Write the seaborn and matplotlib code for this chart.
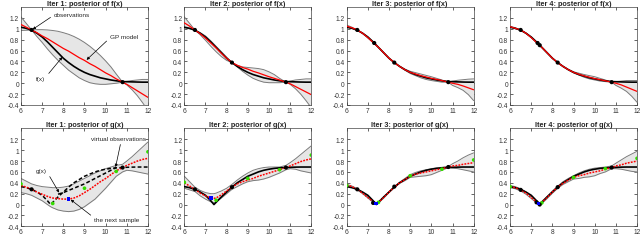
import matplotlib
matplotlib.use("Agg")
import matplotlib.pyplot as plt
from matplotlib.ticker import FixedLocator
import seaborn as sns

# x grids
X = [6, 6.25, 6.5, 6.75, 7, 7.25, 7.5, 7.75, 8, 8.25, 8.5, 8.75, 9, 9.25, 9.5,
     9.75, 10, 10.25, 10.5, 10.8, 11, 11.25, 11.5, 11.75, 12]
XG = [6, 6.25, 6.5, 6.75, 7, 7.25, 7.4, 7.5, 7.75, 8, 8.25, 8.5, 8.75, 9, 9.25,
      9.5, 9.75, 10, 10.25, 10.5, 10.8, 11, 11.25, 11.5, 11.75, 12]

x_ticks = [6, 7, 8, 9, 10, 11, 12]
y_ticks = [-0.4, -0.2, 0, 0.2, 0.4, 0.6, 0.8, 1, 1.2]
y_labels = ["-0.4", "-0.2", "0", "0.2", "0.4", "0.6", "0.8", "1", "1.2"]

# true f(x)
f_true = [1.03, 1.01, 0.975, 0.92, 0.85, 0.76, 0.66, 0.56, 0.46, 0.38, 0.31, 0.25, 0.20,
          0.16, 0.13, 0.10, 0.08, 0.06, 0.045, 0.03, 0.028, 0.025, 0.022, 0.02, 0.02]

# posterior of f, iterations 1..4
f_mean_1 = [1.08, 1.03, 0.98, 0.93, 0.87, 0.82, 0.76, 0.70, 0.64, 0.59, 0.53, 0.47, 0.42,
            0.36, 0.31, 0.25, 0.19, 0.14, 0.08, 0.02, -0.02, -0.08, -0.14, -0.20, -0.26]
f_up_1 = [1.22, 1.10, 0.98, 0.985, 0.985, 0.98, 0.97, 0.955, 0.93, 0.90, 0.86, 0.81, 0.75,
          0.68, 0.60, 0.51, 0.41, 0.30, 0.17, 0.02, 0.035, 0.05, 0.06, 0.07, 0.07]
f_lo_1 = [0.97, 0.975, 0.98, 0.86, 0.75, 0.63, 0.52, 0.42, 0.33, 0.24, 0.17, 0.10, 0.05,
          0.01, -0.01, -0.02, -0.02, -0.01, 0.0, 0.02, -0.03, -0.12, -0.23, -0.36, -0.50]

f_mean_2 = [1.11, 1.05, 0.98, 0.91, 0.83, 0.74, 0.65, 0.55, 0.46, 0.38, 0.33, 0.29, 0.26,
            0.22, 0.19, 0.155, 0.12, 0.09, 0.06, 0.02, -0.01, -0.06, -0.11, -0.16, -0.21]
f_up_2 = [1.22, 1.10, 0.98, 0.93, 0.87, 0.78, 0.68, 0.58, 0.48, 0.38, 0.33, 0.30, 0.29,
          0.28, 0.27, 0.25, 0.21, 0.16, 0.09, 0.02, 0.04, 0.06, 0.07, 0.08, 0.08]
f_lo_2 = [1.02, 1.00, 0.98, 0.89, 0.79, 0.68, 0.58, 0.49, 0.42, 0.38, 0.30, 0.22, 0.15,
          0.09, 0.05, 0.02, 0.01, 0.01, 0.01, 0.02, -0.02, -0.10, -0.20, -0.32, -0.45]

f_mean_3 = [1.05, 1.02, 0.98, 0.92, 0.84, 0.75, 0.66, 0.56, 0.46, 0.38, 0.31, 0.25, 0.20,
            0.17, 0.14, 0.115, 0.09, 0.07, 0.05, 0.02, 0.0, -0.02, -0.05, -0.085, -0.12]
f_up_3 = [1.07, 1.03, 0.98, 0.925, 0.85, 0.755, 0.665, 0.565, 0.465, 0.38, 0.315, 0.26, 0.22,
          0.195, 0.17, 0.145, 0.12, 0.09, 0.06, 0.02, 0.04, 0.055, 0.065, 0.075, 0.08]
f_lo_3 = [1.03, 1.01, 0.98, 0.915, 0.83, 0.745, 0.655, 0.555, 0.455, 0.38, 0.305, 0.24, 0.18,
          0.14, 0.10, 0.07, 0.05, 0.035, 0.02, 0.02, -0.04, -0.08, -0.13, -0.21, -0.32]

f_mean_4 = [1.04, 1.01, 0.98, 0.92, 0.84, 0.75, 0.66, 0.56, 0.46, 0.38, 0.31, 0.25, 0.20,
            0.165, 0.135, 0.11, 0.085, 0.065, 0.045, 0.02, 0.0, -0.03, -0.07, -0.11, -0.15]
f_up_4 = [1.05, 1.02, 0.98, 0.925, 0.845, 0.755, 0.665, 0.565, 0.465, 0.38, 0.315, 0.255, 0.21,
          0.185, 0.16, 0.14, 0.12, 0.09, 0.06, 0.02, 0.03, 0.04, 0.05, 0.05, 0.05]
f_lo_4 = [1.03, 1.00, 0.98, 0.915, 0.835, 0.745, 0.655, 0.555, 0.455, 0.38, 0.305, 0.245, 0.19,
          0.15, 0.11, 0.08, 0.06, 0.04, 0.03, 0.02, -0.04, -0.09, -0.15, -0.24, -0.35]

# observations of f
f_obs_x = [[6.5, 10.8], [6.5, 8.25, 10.8], [6.5, 7.3, 8.25, 10.8], [6.5, 7.3, 7.4, 8.25, 10.8]]
f_obs_y = [[0.98, 0.02], [0.98, 0.38, 0.02], [0.98, 0.74, 0.38, 0.02], [0.98, 0.74, 0.70, 0.38, 0.02]]

# true g(x)
g_true = [0.33, 0.31, 0.28, 0.23, 0.17, 0.07, 0.0, 0.04, 0.14, 0.23, 0.32, 0.40, 0.46,
          0.52, 0.56, 0.60, 0.63, 0.65, 0.665, 0.675, 0.68, 0.685, 0.688, 0.69, 0.69, 0.69]
# second dashed curve in iteration 1 (x from 7.75 to 10.5)
g_dash_x = [7.75, 8, 8.25, 8.5, 8.75, 9, 9.25, 9.5, 9.75, 10, 10.25, 10.5]
g_dash_y = [0.19, 0.22, 0.26, 0.30, 0.34, 0.38, 0.43, 0.48, 0.53, 0.58, 0.63, 0.68]

# posterior of g, iterations 1..4
g_mean_1 = [0.35, 0.32, 0.28, 0.23, 0.19, 0.15, 0.13, 0.12, 0.11, 0.10, 0.10, 0.12, 0.16,
            0.22, 0.28, 0.35, 0.42, 0.48, 0.55, 0.62, 0.68, 0.72, 0.76, 0.80, 0.83, 0.85]
g_up_1 = [0.48, 0.43, 0.38, 0.35, 0.33, 0.32, 0.315, 0.31, 0.31, 0.32, 0.34, 0.38, 0.43,
          0.48, 0.53, 0.58, 0.62, 0.66, 0.69, 0.72, 0.74, 0.80, 0.88, 0.97, 1.06, 1.15]
g_lo_1 = [0.22, 0.20, 0.17, 0.12, 0.07, 0.0, -0.04, -0.06, -0.10, -0.12, -0.13, -0.12, -0.09,
          -0.04, 0.03, 0.10, 0.20, 0.30, 0.41, 0.52, 0.60, 0.63, 0.62, 0.60, 0.58, 0.56]

g_mean_2 = [0.40, 0.34, 0.28, 0.21, 0.16, 0.12, 0.115, 0.12, 0.18, 0.25, 0.32, 0.38, 0.42,
            0.45, 0.48, 0.52, 0.55, 0.58, 0.61, 0.64, 0.68, 0.71, 0.75, 0.79, 0.82, 0.84]
g_up_2 = [0.52, 0.42, 0.32, 0.26, 0.22, 0.20, 0.20, 0.21, 0.25, 0.30, 0.37, 0.45, 0.52,
          0.58, 0.63, 0.66, 0.68, 0.69, 0.69, 0.69, 0.72, 0.77, 0.84, 0.92, 1.00, 1.08]
g_lo_2 = [0.30, 0.27, 0.24, 0.16, 0.10, 0.05, 0.03, 0.05, 0.12, 0.20, 0.28, 0.33, 0.38,
          0.42, 0.44, 0.45, 0.47, 0.50, 0.54, 0.58, 0.64, 0.66, 0.65, 0.62, 0.60, 0.58]

g_mean_3 = [0.36, 0.33, 0.28, 0.21, 0.13, 0.05, 0.025, 0.04, 0.13, 0.23, 0.32, 0.40, 0.46,
            0.52, 0.56, 0.58, 0.60, 0.62, 0.64, 0.66, 0.69, 0.71, 0.72, 0.74, 0.755, 0.77]
g_up_3 = [0.37, 0.34, 0.29, 0.22, 0.14, 0.06, 0.035, 0.05, 0.14, 0.24, 0.33, 0.41, 0.48,
          0.55, 0.59, 0.62, 0.64, 0.66, 0.675, 0.685, 0.70, 0.75, 0.80, 0.86, 0.91, 0.95]
g_lo_3 = [0.35, 0.32, 0.27, 0.20, 0.12, 0.04, 0.015, 0.03, 0.12, 0.22, 0.31, 0.39, 0.44,
          0.50, 0.51, 0.52, 0.53, 0.55, 0.59, 0.63, 0.68, 0.67, 0.66, 0.64, 0.62, 0.60]

g_mean_4 = [0.33, 0.31, 0.27, 0.21, 0.13, 0.05, 0.01, 0.04, 0.13, 0.23, 0.32, 0.39, 0.45,
            0.50, 0.53, 0.55, 0.58, 0.60, 0.62, 0.65, 0.68, 0.71, 0.73, 0.76, 0.78, 0.80]
g_up_4 = [0.35, 0.33, 0.29, 0.23, 0.15, 0.07, 0.03, 0.06, 0.15, 0.25, 0.34, 0.42, 0.48,
          0.53, 0.58, 0.62, 0.65, 0.67, 0.68, 0.69, 0.71, 0.76, 0.82, 0.88, 0.93, 0.98]
g_lo_4 = [0.31, 0.29, 0.25, 0.19, 0.11, 0.03, -0.01, 0.02, 0.11, 0.21, 0.30, 0.37, 0.42,
          0.47, 0.48, 0.50, 0.51, 0.53, 0.57, 0.60, 0.66, 0.66, 0.65, 0.63, 0.61, 0.60]

# observations of g
g_obs_x = [[6.5, 10.8], [6.5, 8.25, 10.8], [6.5, 7.25, 8.25, 10.8], [6.5, 7.25, 7.4, 8.25, 10.8]]
g_obs_y = [[0.28, 0.68], [0.28, 0.32, 0.68], [0.28, 0.03, 0.33, 0.69], [0.27, 0.04, 0.0, 0.32, 0.68]]
next_x = [8.25, 7.25, 7.4, 7.35]
next_y = [0.10, 0.12, 0.02, 0.02]
virt_x = [6, 7.5, 9, 10.5, 12]
virt_y = [[0.38, 0.02, 0.30, 0.61, 0.97], [0.41, 0.08, 0.48, 0.64, 0.91],
          [0.35, 0.04, 0.53, 0.65, 0.82], [0.33, 0.03, 0.50, 0.66, 0.85]]

f_means = [f_mean_1, f_mean_2, f_mean_3, f_mean_4]
f_ups = [f_up_1, f_up_2, f_up_3, f_up_4]
f_los = [f_lo_1, f_lo_2, f_lo_3, f_lo_4]
g_means = [g_mean_1, g_mean_2, g_mean_3, g_mean_4]
g_ups = [g_up_1, g_up_2, g_up_3, g_up_4]
g_los = [g_lo_1, g_lo_2, g_lo_3, g_lo_4]

sns.set_style("white")
plt.rcParams["font.family"] = ["Liberation Sans", "DejaVu Sans"]

fig = plt.figure(figsize=(6.4, 2.51), dpi=100)
lefts = [0.0328, 0.288, 0.5417, 0.797]
width = 0.1984
bottoms = [0.5777, 0.0944]
height = 0.390

FILL = "#e6e6e6"
EDGE = "#7a7a7a"


def style_axes(ax, title):
    ax.set_xlim(6, 12)
    ax.set_ylim(-0.4, 1.4)
    ax.xaxis.set_major_locator(FixedLocator(x_ticks))
    ax.yaxis.set_major_locator(FixedLocator(y_ticks))
    ax.set_xticklabels([str(t) for t in x_ticks])
    ax.set_yticklabels(y_labels)
    ax.tick_params(direction="in", length=2, width=0.5, labelsize=4.8,
                   labelcolor="#333333", pad=1.5, top=True, right=True,
                   bottom=True, left=True)
    for s in ax.spines.values():
        s.set_linewidth(0.5)
        s.set_color("#444444")
    ax.set_xlabel("")
    ax.set_ylabel("")
    ax.set_title(title, fontsize=5.2, fontweight="bold", pad=1.5)


for i in range(4):
    # ---- top row: posterior of f
    ax = fig.add_axes([lefts[i], bottoms[0], width, height])
    ax.fill_between(X, f_los[i], f_ups[i], color=FILL, lw=0, zorder=1)
    sns.lineplot(x=X, y=f_ups[i], ax=ax, color=EDGE, lw=0.7, sort=False, estimator=None, zorder=2)
    sns.lineplot(x=X, y=f_los[i], ax=ax, color=EDGE, lw=0.7, sort=False, estimator=None, zorder=2)
    sns.lineplot(x=X, y=f_true, ax=ax, color="black", lw=1.2, sort=False, estimator=None, zorder=3)
    sns.lineplot(x=X, y=f_means[i], ax=ax, color="red", lw=0.9, sort=False, estimator=None, zorder=4)
    sns.scatterplot(x=f_obs_x[i], y=f_obs_y[i], ax=ax, color="black", s=9,
                    edgecolor="none", zorder=6)
    style_axes(ax, f"Iter {i + 1}: posterior of f(x)")
    if i == 0:
        arrow = dict(arrowstyle="-|>", lw=0.5, color="black", mutation_scale=4,
                     shrinkA=0, shrinkB=0)
        ax.annotate("observations", xy=(6.55, 0.99), xytext=(7.55, 1.27), fontsize=4.6,
                    va="center", ha="left", arrowprops=dict(arrow, relpos=(0, 0.3)))
        ax.annotate("GP model", xy=(9.1, 0.43), xytext=(10.2, 0.86), fontsize=4.6,
                    va="center", ha="left", arrowprops=dict(arrow, relpos=(0, 0.2)))
        ax.annotate("f(x)", xy=(7.95, 0.48), xytext=(6.72, 0.08), fontsize=4.6,
                    va="center", ha="left", arrowprops=dict(arrow, relpos=(1, 0.8)))

    # ---- bottom row: posterior of g
    ax = fig.add_axes([lefts[i], bottoms[1], width, height])
    ax.fill_between(XG, g_los[i], g_ups[i], color=FILL, lw=0, zorder=1)
    sns.lineplot(x=XG, y=g_ups[i], ax=ax, color=EDGE, lw=0.7, sort=False, estimator=None, zorder=2)
    sns.lineplot(x=XG, y=g_los[i], ax=ax, color=EDGE, lw=0.7, sort=False, estimator=None, zorder=2)
    if i == 0:
        sns.lineplot(x=XG, y=g_true, ax=ax, color="black", lw=1.1, linestyle=(0, (2.5, 1.5)),
                     sort=False, estimator=None, zorder=3)
        sns.lineplot(x=g_dash_x, y=g_dash_y, ax=ax, color="black", lw=1.1,
                     linestyle=(0, (2.5, 1.5)), sort=False, estimator=None, zorder=3)
    else:
        sns.lineplot(x=XG, y=g_true, ax=ax, color="black", lw=1.2, sort=False,
                     estimator=None, zorder=3)
    sns.lineplot(x=XG, y=g_means[i], ax=ax, color="red", lw=1.1, linestyle=(0, (1.2, 0.8)),
                 sort=False, estimator=None, zorder=4)
    sns.scatterplot(x=virt_x, y=virt_y[i], ax=ax, color="#33dd00", s=7, edgecolor="none", zorder=5)
    sns.scatterplot(x=g_obs_x[i], y=g_obs_y[i], ax=ax, color="black", s=9,
                    edgecolor="none", zorder=6)
    sns.scatterplot(x=[next_x[i]], y=[next_y[i]], ax=ax, color="#0000ff", s=7, marker="s",
                    edgecolor="none", zorder=7)
    style_axes(ax, f"Iter {i + 1}: posterior of g(x)")
    if i == 0:
        ax.annotate("virtual observations", xy=(10.47, 0.69), xytext=(9.3, 1.21), fontsize=4.6,
                    va="center", ha="left", arrowprops=dict(arrow, relpos=(0.55, 0)))
        ax.annotate("g(x)", xy=(7.8, 0.22), xytext=(6.72, 0.62), fontsize=4.6,
                    va="center", ha="left", arrowprops=dict(arrow, relpos=(1, 0.2)))
        ax.annotate("the next sample", xy=(8.35, 0.09), xytext=(9.45, -0.27), fontsize=4.6,
                    va="center", ha="left", arrowprops=dict(arrow, relpos=(0, 0.8)))

fig.savefig("out.png", dpi=100)
